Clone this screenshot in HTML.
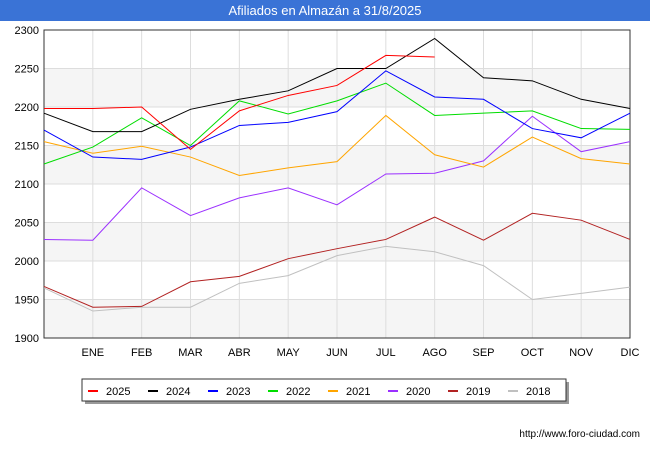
<!DOCTYPE html>
<html><head><meta charset="utf-8"><style>
body{margin:0;width:650px;height:450px;background:#fff;font-family:"Liberation Sans",sans-serif;overflow:hidden}
</style></head><body>
<svg width="650" height="450" xmlns="http://www.w3.org/2000/svg">
<rect x="0" y="0" width="650" height="21" fill="#3a73d6"/>
<text x="325" y="15" fill="#fff" font-size="13" text-anchor="middle">Afiliados en Almazán a 31/8/2025</text>
<g id="bands"></g><g id="grid"></g>
<rect x="44" y="30" width="586" height="308" fill="none" stroke="#333" stroke-width="1"/>
<g id="ticks" font-size="11" fill="#000"></g>
<g id="lines"></g>
<g>
<rect x="85" y="382" width="484" height="22" fill="#999"/>
<rect x="82" y="379" width="484" height="22" fill="#fff" stroke="#333"/>
<g id="legend" font-size="11"></g>
</g>
<text x="640" y="437" font-size="10" text-anchor="end">http://www.foro-ciudad.com</text>
</svg>
<script>
const months=["","ENE","FEB","MAR","ABR","MAY","JUN","JUL","AGO","SEP","OCT","NOV","DIC"];
const yTicks=[1900,1950,2000,2050,2100,2150,2200,2250,2300];
const seriesNames=["2025","2024","2023","2022","2021","2020","2019","2018"];
const seriesColors=["#ff0000","#000000","#0000ff","#00dd00","#ffa500","#9b30ff","#b22222","#c0c0c0"];
const s2025=[2198,2198,2200,2145,2195,2215,2228,2267,2265];
const s2024=[2192,2168,2168,2197,2210,2221,2250,2250,2289,2238,2234,2210,2198];
const s2023=[2170,2135,2132,2148,2176,2180,2194,2247,2213,2210,2172,2160,2192];
const s2022=[2126,2148,2186,2150,2208,2191,2208,2231,2189,2192,2195,2172,2171];
const s2021=[2155,2140,2149,2135,2111,2121,2129,2189,2138,2122,2161,2133,2126];
const s2020=[2028,2027,2095,2059,2082,2095,2073,2113,2114,2130,2188,2142,2155];
const s2019=[1967,1940,1941,1973,1980,2003,2016,2028,2057,2027,2062,2053,2028];
const s2018=[1965,1935,1940,1940,1971,1981,2007,2019,2012,1994,1950,1958,1966];
const seriesData=[s2025,s2024,s2023,s2022,s2021,s2020,s2019,s2018];
const NS="http://www.w3.org/2000/svg";
const x=i=>44+i*(586/12);
const y=v=>338-(v-1900)*(308/400);
function mk(t,a,p){const e=document.createElementNS(NS,t);for(const k in a)e.setAttribute(k,a[k]);p.appendChild(e);return e;}
const bands=document.getElementById('bands'),grid=document.getElementById('grid'),ticks=document.getElementById('ticks');
for(let i=0;i<yTicks.length-1;i++){
 if(i%2===0){const r=mk('rect',{x:44,y:y(yTicks[i+1]),width:586,height:y(yTicks[i])-y(yTicks[i+1]),fill:'#f5f5f5'},bands);
 
 }
}
yTicks.forEach(v=>{
 const l=mk('line',{x1:44,x2:630,y1:y(v),y2:y(v),stroke:'#ddd'},grid);
 
 
 const t=mk('text',{x:39,y:y(v)+4,'text-anchor':'end'},ticks);t.textContent=v;
 
 
});
months.forEach((m,i)=>{
 if(i>0){const l=mk('line',{x1:x(i),x2:x(i),y1:30,y2:338,stroke:'#ddd'},grid);
 
 }
 const t=mk('text',{x:x(i),y:356,'text-anchor':'middle'},ticks);t.textContent=m;
 
 
});
const lines=document.getElementById('lines'),leg=document.getElementById('legend');
for(let k=seriesData.length-1;k>=0;k--){
 const p=mk('polyline',{points:seriesData[k].map((v,i)=>x(i)+','+y(v)).join(' '),fill:'none',stroke:seriesColors[k],'stroke-width':1},lines);
 
 
}
seriesNames.forEach((n,k)=>{
 const lx=88+k*60;
 const l=mk('line',{x1:lx,x2:lx+10,y1:391,y2:391,stroke:seriesColors[k],'stroke-width':2},leg);
 
 
 const t=mk('text',{x:lx+18,y:395},leg);t.textContent=n;
 
 
});
</script>
</body></html>
